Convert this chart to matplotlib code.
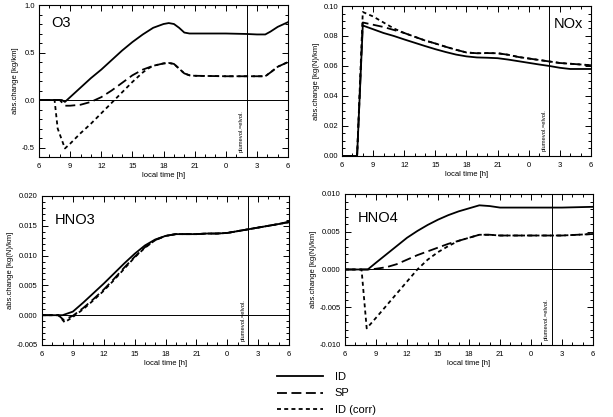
import matplotlib
matplotlib.use("Agg")
import matplotlib.pyplot as plt
from matplotlib.lines import Line2D
from matplotlib.ticker import MultipleLocator

# ---------------- data (hours since midnight of day 1; 24..30 = next day 0..6) -------------
xticks = [6, 9, 12, 15, 18, 21, 24, 27, 30]
xticklabels = ["6", "9", "12", "15", "18", "21", "0", "3", "6"]
plume_time = 26.0

# O3
o3_t_id = [6, 8.2, 8.5, 9, 10, 11, 12, 13, 14, 15, 16, 17, 18, 18.5, 19, 19.5, 20, 20.5, 21, 24, 26, 27, 27.8, 28.3, 29, 30]
o3_id = [0, 0, -0.02, 0.03, 0.13, 0.23, 0.32, 0.42, 0.52, 0.61, 0.69, 0.76, 0.80, 0.81, 0.80, 0.76, 0.71, 0.70, 0.70, 0.70, 0.695, 0.69, 0.69, 0.72, 0.77, 0.82]
o3_t_sp = [6, 8, 8.5, 9, 10, 11, 12, 13, 14, 15, 16, 17, 18, 18.5, 19, 19.5, 20, 20.5, 21, 24, 27, 27.8, 28.3, 29, 30]
o3_sp = [0, 0, -0.06, -0.06, -0.05, -0.02, 0.03, 0.10, 0.18, 0.26, 0.32, 0.36, 0.385, 0.39, 0.38, 0.33, 0.28, 0.26, 0.255, 0.25, 0.25, 0.25, 0.29, 0.35, 0.40]
o3_t_corr = [6, 7.5, 7.8, 8.5, 9, 10, 11, 12, 13, 14, 15, 16, 16.5, 17, 18, 18.5, 19, 19.5, 20, 20.5, 21, 24, 27, 27.8, 28.3, 29, 30]
o3_corr = [0, 0, -0.30, -0.51, -0.46, -0.35, -0.25, -0.14, -0.03, 0.08, 0.19, 0.29, 0.33, 0.36, 0.385, 0.39, 0.38, 0.33, 0.28, 0.26, 0.255, 0.25, 0.25, 0.25, 0.29, 0.35, 0.40]

# NOx
nox_t = [6, 7.45, 8.0, 9, 10, 11, 12, 13, 14, 15, 16, 17, 18, 19, 20, 21, 22, 23, 24, 25, 26, 27, 28, 29, 30]
nox_id = [0, 0, 0.087, 0.0845, 0.082, 0.080, 0.0777, 0.0755, 0.0733, 0.0712, 0.0693, 0.0676, 0.0664, 0.0657, 0.0655, 0.0652, 0.0643, 0.0632, 0.0621, 0.0610, 0.0600, 0.0588, 0.0580, 0.0580, 0.0580]
nox_sp = [0, 0, 0.089, 0.0875, 0.0860, 0.0840, 0.0820, 0.0795, 0.0770, 0.0750, 0.0728, 0.0708, 0.0690, 0.0685, 0.0686, 0.0685, 0.0675, 0.0660, 0.0650, 0.0640, 0.0630, 0.0620, 0.0615, 0.0610, 0.0605]
nox_corr = [0, 0, 0.096, 0.093, 0.089, 0.085, 0.082, 0.0795, 0.0770, 0.0750, 0.0728, 0.0708, 0.0690, 0.0685, 0.0686, 0.0685, 0.0675, 0.0660, 0.0650, 0.0640, 0.0630, 0.0620, 0.0615, 0.0610, 0.0605]

# HNO3
hno3_t_id = [6, 8, 9, 10, 11, 12, 13, 14, 15, 16, 17, 18, 19, 20, 21, 22, 23, 24, 25, 26, 27, 28, 29, 30]
hno3_id = [0, 0, 0.0006, 0.0021, 0.0037, 0.0053, 0.0070, 0.0087, 0.0103, 0.0117, 0.0127, 0.0133, 0.0136, 0.0136, 0.0136, 0.0137, 0.0137, 0.0138, 0.0141, 0.0144, 0.0147, 0.0150, 0.0153, 0.0157]
hno3_t_sp = [6, 7.6, 8.1, 9, 10, 11, 12, 13, 14, 15, 16, 17, 18, 19, 20, 21, 22, 23, 24, 25, 26, 27, 28, 29, 30]
hno3_sp = [0, 0, -0.0008, -0.0001, 0.0012, 0.0027, 0.0043, 0.0061, 0.0080, 0.0098, 0.0114, 0.0126, 0.0133, 0.0136, 0.0136, 0.0136, 0.0137, 0.0137, 0.0138, 0.0141, 0.0144, 0.0147, 0.0150, 0.0153, 0.0156]
hno3_t_corr = [6, 7.6, 8.2, 9, 10, 11, 12, 13, 14, 15, 16, 17, 18, 19, 20, 21, 22, 23, 24, 25, 26, 27, 28, 29, 30]
hno3_corr = [0, 0, -0.0012, -0.0003, 0.0010, 0.0025, 0.0041, 0.0059, 0.0078, 0.0097, 0.0113, 0.0126, 0.0133, 0.0136, 0.0136, 0.0136, 0.0137, 0.0137, 0.0138, 0.0141, 0.0144, 0.0147, 0.0150, 0.0153, 0.0156]

# HNO4
hno4_t_id = [6, 8.2, 9, 10, 11, 12, 13, 14, 15, 16, 17, 18, 19, 20, 21, 24, 27, 30]
hno4_id = [0, 0, 0.0009, 0.0020, 0.0031, 0.0042, 0.0051, 0.0059, 0.0066, 0.0072, 0.0077, 0.0081, 0.0085, 0.0084, 0.0082, 0.0082, 0.0082, 0.0083]
hno4_t_sp = [6, 8.5, 9, 10, 11, 12, 13, 14, 15, 16, 17, 18, 19, 20, 21, 24, 27, 30]
hno4_sp = [0, 0, 0.0001, 0.0003, 0.0007, 0.0013, 0.0019, 0.0024, 0.0029, 0.0034, 0.0038, 0.0042, 0.0046, 0.0046, 0.0045, 0.0045, 0.0045, 0.0047]
hno4_t_corr = [6, 7.6, 8.1, 9, 10, 11, 12, 13, 14, 15, 16, 17, 18, 19, 20, 21, 24, 27, 30]
hno4_corr = [0, 0, -0.0078, -0.0064, -0.0048, -0.0032, -0.0016, 0.0000, 0.0013, 0.0023, 0.0031, 0.0038, 0.0042, 0.0046, 0.0046, 0.0045, 0.0045, 0.0045, 0.0047]

# ---------------- styling -------------
plt.rcParams['font.family'] = ['Liberation Sans', 'DejaVu Sans']
LW = 1.3
ST_ID = '-'
ST_SP = (0, (5.5, 2.5))
ST_CORR = (0, (2.2, 1.8))

fig = plt.figure(figsize=(6.13, 4.17), dpi=100)

panels = [
    dict(pos=[0.0636, 0.6235, 0.4064, 0.3645], name="O3", name_pos=(0.05, 0.88), ha='left',
         ylim=(-0.6, 1.0), major=0.5, minor=0.1, fmt="{:.1f}", ylabel="abs.change [kg/km]",
         series=[(o3_t_id, o3_id, ST_ID), (o3_t_sp, o3_sp, ST_SP), (o3_t_corr, o3_corr, ST_CORR)], zero=True),
    dict(pos=[0.558, 0.626, 0.406, 0.3596], name="NOx", name_pos=(0.97, 0.88), ha='right',
         ylim=(0.0, 0.10), major=0.02, minor=0.005, fmt="{:.2f}", ylabel="abs.change [kg(N)/km]",
         series=[(nox_t, nox_id, ST_ID), (nox_t, nox_sp, ST_SP), (nox_t, nox_corr, ST_CORR)], zero=False),
    dict(pos=[0.0685, 0.1727, 0.403, 0.3573], name="HNO3", name_pos=(0.05, 0.84), ha='left',
         ylim=(-0.005, 0.020), major=0.005, minor=0.001, fmt="{:.3f}", ylabel="abs.change [kg(N)/km]",
         series=[(hno3_t_id, hno3_id, ST_ID), (hno3_t_sp, hno3_sp, ST_SP), (hno3_t_corr, hno3_corr, ST_CORR)], zero=True),
    dict(pos=[0.5628, 0.1727, 0.4046, 0.3621], name="HNO4", name_pos=(0.05, 0.84), ha='left',
         ylim=(-0.010, 0.010), major=0.005, minor=0.001, fmt="{:.3f}", ylabel="abs.change [kg(N)/km]",
         series=[(hno4_t_id, hno4_id, ST_ID), (hno4_t_sp, hno4_sp, ST_SP), (hno4_t_corr, hno4_corr, ST_CORR)], zero=True),
]

for p in panels:
    ax = fig.add_axes(p['pos'])
    for t, v, ls in p['series']:
        ax.plot(t, v, color='black', lw=LW, linestyle=ls)
    ax.set_xlim(6, 30)
    ax.set_ylim(*p['ylim'])
    ax.set_xticks(xticks)
    ax.set_xticklabels(xticklabels)
    ax.xaxis.set_minor_locator(MultipleLocator(1))
    ax.yaxis.set_major_locator(MultipleLocator(p['major']))
    ax.yaxis.set_minor_locator(MultipleLocator(p['minor']))
    yt = ax.get_yticks()
    yt = [y for y in yt if p['ylim'][0] - 1e-9 <= y <= p['ylim'][1] + 1e-9]
    ax.set_yticks(yt)
    ax.set_yticklabels([p['fmt'].format(y if abs(y) > 1e-12 else 0.0) for y in yt])
    ax.tick_params(which='both', direction='in', top=True, right=True, labelsize=5.5, width=0.7)
    ax.tick_params(axis='x', which='both', pad=4.5)
    ax.tick_params(axis='y', which='both', pad=3)
    ax.tick_params(which='major', length=4)
    ax.tick_params(which='minor', length=2)
    for s in ax.spines.values():
        s.set_linewidth(0.8)
    ax.set_xlabel("local time [h]", fontsize=5.5, labelpad=1.5)
    ax.set_ylabel(p['ylabel'], fontsize=5.5, labelpad=2)
    if p['zero']:
        ax.axhline(0, color='black', lw=0.7)
    ax.axvline(plume_time, color='black', lw=0.7)
    ax.text(plume_time - 0.25, p['ylim'][0] + 0.03 * (p['ylim'][1] - p['ylim'][0]), "plumevol.=elvol.",
            rotation=90, fontsize=4.2, ha='right', va='bottom')
    ax.text(p['name_pos'][0], p['name_pos'][1], p['name'], transform=ax.transAxes,
            fontsize=10.5, ha=p['ha'], va='center')

handles = [Line2D([], [], color='black', lw=LW, linestyle=ST_ID),
           Line2D([], [], color='black', lw=LW, linestyle=ST_SP),
           Line2D([], [], color='black', lw=LW, linestyle=ST_CORR)]
fig.legend(handles, ["ID", "SP", "ID (corr)"], loc='upper left', bbox_to_anchor=(0.452, 0.108),
           frameon=False, fontsize=8, handlelength=4.1, handletextpad=1.1, labelspacing=0.58,
           borderaxespad=0, borderpad=0)

fig.savefig("out.png", dpi=100)
